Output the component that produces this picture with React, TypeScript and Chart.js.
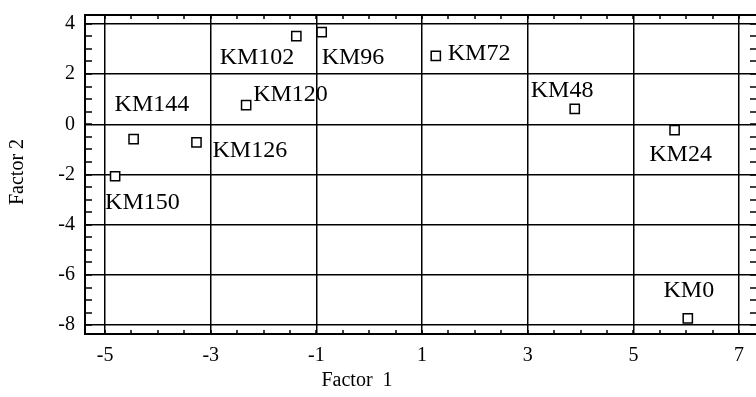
import React, { useEffect, useRef } from "react";
import { Chart, registerables } from "chart.js";

Chart.register(...registerables);

// ---- data ----
const sampleNames = ["KM0", "KM24", "KM48", "KM72", "KM96", "KM102", "KM120", "KM126", "KM144", "KM150"];
const factor1 = [6.03, 5.78, 3.89, 1.26, -0.9, -1.38, -2.33, -3.27, -4.46, -4.81];
const factor2 = [-7.73, -0.23, 0.61, 2.72, 3.67, 3.51, 0.76, -0.72, -0.59, -2.07];
const xTickValues = [-5, -3, -1, 1, 3, 5, 7];
const yTickValues = [4, 2, 0, -2, -4, -6, -8];
const xTitle = "Factor  1";
const yTitle = "Factor 2";

// ---- layout (label offsets relative to each marker, in px) ----
const labelPlacement: Record<string, { dx: number; dy: number; align: CanvasTextAlign }> = {
  KM0: { dx: 1, dy: -28, align: "center" },
  KM24: { dx: 6, dy: 25, align: "center" },
  KM48: { dx: -44, dy: -18, align: "left" },
  KM72: { dx: 12, dy: -2, align: "left" },
  KM96: { dx: 0, dy: 26, align: "left" },
  KM102: { dx: -2, dy: 22, align: "right" },
  KM120: { dx: 7, dy: -10, align: "left" },
  KM126: { dx: 16, dy: 8, align: "left" },
  KM144: { dx: -19, dy: -34, align: "left" },
  KM150: { dx: -10, dy: 26, align: "left" },
};

const FONT = "'Liberation Serif', 'Times New Roman', serif";
const MINOR_STEP = 0.5;

const decorPlugin = {
  id: "decor",
  beforeDatasetsDraw(chart: any) {
    const { ctx, chartArea: a, scales } = chart;
    const x = scales.x;
    const y = scales.y;
    ctx.save();
    ctx.strokeStyle = "#000";
    // frame
    ctx.lineWidth = 2;
    ctx.strokeRect(a.left, a.top, a.right - a.left, a.bottom - a.top);
    // minor ticks
    ctx.lineWidth = 1.5;
    ctx.beginPath();
    for (let v = Math.ceil(x.min / MINOR_STEP) * MINOR_STEP; v <= x.max; v += MINOR_STEP) {
      const px = Math.round(x.getPixelForValue(v));
      ctx.moveTo(px, a.bottom);
      ctx.lineTo(px, a.bottom - 4);
      ctx.moveTo(px, a.top);
      ctx.lineTo(px, a.top + 4);
    }
    for (let v = Math.ceil(y.min / MINOR_STEP) * MINOR_STEP; v <= y.max; v += MINOR_STEP) {
      const py = Math.round(y.getPixelForValue(v));
      ctx.moveTo(a.left, py);
      ctx.lineTo(a.left + 7, py);
      ctx.moveTo(a.right, py);
      ctx.lineTo(a.right - 7, py);
    }
    ctx.stroke();
    ctx.restore();
  },
  afterDatasetsDraw(chart: any) {
    const { ctx, scales } = chart;
    const x = scales.x;
    const y = scales.y;
    ctx.save();
    ctx.fillStyle = "#000";
    ctx.font = `24px ${FONT}`;
    ctx.textBaseline = "middle";
    sampleNames.forEach((name, i) => {
      const p = labelPlacement[name];
      const px = x.getPixelForValue(factor1[i]);
      const py = y.getPixelForValue(factor2[i]);
      ctx.textAlign = p.align;
      ctx.fillText(name, px + p.dx, py + p.dy);
    });
    // axis titles
    ctx.font = `20px ${FONT}`;
    ctx.textAlign = "center";
    ctx.fillText(xTitle, 357, 381);
    ctx.translate(18, 172);
    ctx.rotate(-Math.PI / 2);
    ctx.fillText(yTitle, 0, 0);
    ctx.restore();
  },
};

export default function App() {
  const ref = useRef<HTMLCanvasElement | null>(null);
  useEffect(() => {
    if (!ref.current) return;
    const chart = new Chart(ref.current, {
      type: "scatter",
      data: {
        datasets: [
          {
            data: factor1.map((v, i) => ({ x: v, y: factor2[i] })),
            pointStyle: "rect",
            pointRadius: 6.5,
            pointHoverRadius: 6.5,
            borderColor: "#000",
            backgroundColor: "#fff",
            borderWidth: 1.5,
            showLine: false,
          },
        ],
      },
      options: {
        responsive: false,
        animation: false,
        devicePixelRatio: 1,
        layout: { padding: { left: 0, top: 15, right: 13, bottom: 0 } },
        plugins: { legend: { display: false }, tooltip: { enabled: false }, title: { display: false } },
        scales: {
          x: {
            type: "linear",
            min: -5.38,
            max: 7.34,
            afterBuildTicks: (s: any) => {
              s.ticks = xTickValues.map((v) => ({ value: v }));
            },
            afterFit: (s: any) => {
              s.height = 63;
              s.paddingLeft = 0;
              s.paddingRight = 0;
            },
            grid: { color: "#000", lineWidth: 1.5, drawTicks: false },
            border: { display: false },
            ticks: {
              color: "#000",
              font: { family: FONT, size: 20 },
              padding: 10,
              autoSkip: false,
              maxRotation: 0,
              callback: (v: any) => String(v),
            },
          },
          y: {
            type: "linear",
            min: -8.35,
            max: 4.35,
            afterBuildTicks: (s: any) => {
              s.ticks = yTickValues.map((v) => ({ value: v }));
            },
            afterFit: (s: any) => {
              s.width = 85;
              s.paddingTop = 0;
              s.paddingBottom = 0;
            },
            grid: { color: "#000", lineWidth: 1.5, drawTicks: false },
            border: { display: false },
            ticks: {
              color: "#000",
              font: { family: FONT, size: 20 },
              padding: 10,
              autoSkip: false,
              callback: (v: any) => String(v),
            },
          },
        },
      },
      plugins: [decorPlugin],
    });
    return () => chart.destroy();
  }, []);
  return (
    <div style={{ position: "fixed", left: 0, top: 0, width: 756, height: 397, overflow: "hidden", background: "#fff" }}>
      <canvas ref={ref} width={770} height={397} style={{ display: "block" }} />
    </div>
  );
}
